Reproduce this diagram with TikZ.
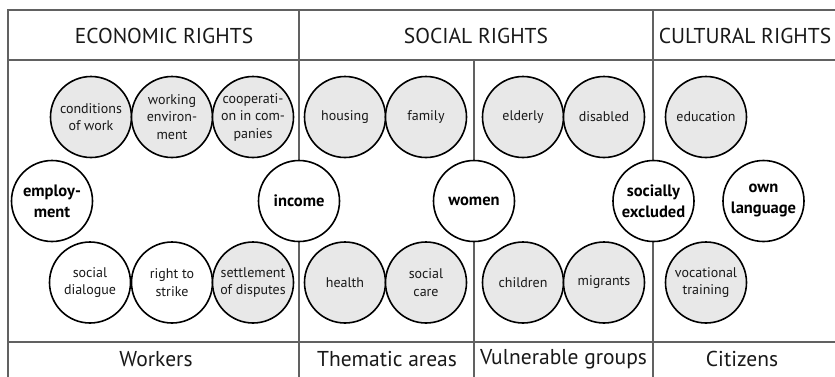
\documentclass[tikz,border=0pt]{standalone}
\usepackage{fontspec}
\setmainfont{PT Sans}
\begin{document}
\begin{tikzpicture}[x=1pt,y=-1pt,
  frameline/.style={draw=black!62, line width=2.2pt},
  topic/.style={circle, draw=black, line width=1.6pt, minimum size=81pt,
    inner sep=0pt, align=center, text=black!90,
    font=\fontsize{14}{17.5}\selectfont},
  shaded/.style={topic, fill=black!9},
  open/.style={topic, fill=white},
  key/.style={topic, fill=white, text=black,
    font=\bfseries\fontsize{16.5}{21}\selectfont},
  head/.style={anchor=center, text=black!90,
    font=\fontsize{21.5}{26}\selectfont}]
\useasboundingbox (0,0) rectangle (835,376);
\fill[white] (0,0) rectangle (835,376);

% table frame
\draw[frameline] (840,10) -- (8,10) -- (8,380);
\draw[frameline] (8,60) -- (840,60);
\draw[frameline] (8,342) -- (840,342);
\draw[frameline] (299,10) -- (299,380);
\draw[frameline] (474,60) -- (474,380);
\draw[frameline] (653,10) -- (653,380);

% column headings
\node[head] (econ) at (164,36) {ECONOMIC RIGHTS};
\node[head] (soc)  at (476,36) {SOCIAL RIGHTS};
\node[head] (cult) at (745,36) {CULTURAL RIGHTS};

% column footers
\node[head] (workers)    at (156,359) {Workers};
\node[head] (thematic)   at (387,359) {Thematic areas};
\node[head] (vulnerable) at (563.5,359) {Vulnerable groups};
\node[head] (citizens)   at (742,359) {Citizens};

% upper row
\node[shaded] (cond)   at (91,117)  {conditions\\of work};
\node[shaded] (workenv) at (172,117) {working\\environ-\\ment};
\node[shaded] (coop)   at (253,117) {cooperati-\\on in com-\\panies};
\node[shaded] (housing) at (345,117) {housing};
\node[shaded] (family) at (426,117) {family};
\node[shaded] (elderly) at (523,117) {elderly};
\node[shaded] (disabled) at (604,117) {disabled};
\node[shaded] (educ)   at (706,117) {education};

% middle row
\node[key] (employ) at (52,201)   {employ-\\ment};
\node[key] (income) at (299,201)  {income};
\node[key] (women)  at (474,201)  {women};
\node[key] (excl)   at (653.5,201) {socially\\excluded};
\node[key] (lang)   at (763.5,201) {own\\language};

% lower row
\node[open]   (dialogue) at (90,282.5)  {social\\dialogue};
\node[open]   (strike)   at (172,282.5) {right to\\strike};
\node[shaded] (disputes) at (253,282.5) {settlement\\of disputes};
\node[shaded] (health)   at (345,282.5) {health};
\node[shaded] (care)     at (426,282.5) {social\\care};
\node[shaded] (children) at (523,282.5) {children};
\node[shaded] (migrants) at (604,282.5) {migrants};
\node[shaded] (vocation) at (706,282.5) {vocational\\training};
\end{tikzpicture}
\end{document}
